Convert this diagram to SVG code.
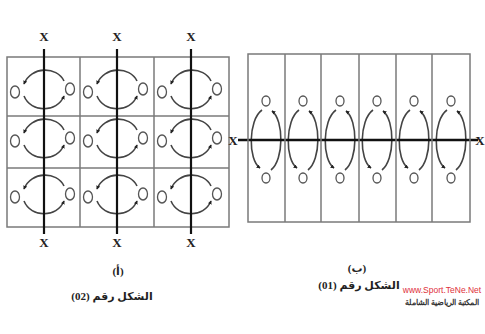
<svg xmlns="http://www.w3.org/2000/svg" width="485" height="334" viewBox="0 0 485 334">
<defs>
<style>
.grid{fill:none;stroke:#7a7a7a;stroke-width:1.5}
.axis{stroke:#111;stroke-width:2.2}
.arc{fill:none;stroke:#444;stroke-width:1.6}
.ring{fill:#fff;stroke:#555;stroke-width:1.3}
.x{font-family:"Liberation Serif",serif;font-weight:bold;font-size:13px;fill:#222;text-anchor:middle}
.lbl{font-family:"Liberation Serif","DejaVu Sans",serif;font-weight:bold;font-size:11px;fill:#222;text-anchor:middle}
</style>
<marker id="ah" viewBox="0 0 6 6" refX="5" refY="3" markerWidth="4" markerHeight="4" markerUnits="userSpaceOnUse" orient="auto">
<path d="M0,0 L6,3 L0,6 Z" fill="#222"/>
</marker>
<g id="hcell">
<ellipse class="ring" cx="-29" cy="2" rx="4.5" ry="6"/>
<ellipse class="ring" cx="26" cy="-1" rx="4.5" ry="6"/>
<path class="arc" d="M20,-9 C13,-24 -13,-24 -20,-6" marker-end="url(#ah)"/>
<path class="arc" d="M-20,6 C-13,23 13,23 20,6" marker-end="url(#ah)"/>
</g>
<g id="vcell">
<ellipse class="ring" cx="0" cy="-39" rx="4" ry="5"/>
<ellipse class="ring" cx="0" cy="38" rx="4" ry="5"/>
<path class="arc" d="M-4,-30 C-18,-20 -18,20 -6,28" marker-end="url(#ah)"/>
<path class="arc" d="M5,30 C18,20 18,-20 6,-29" marker-end="url(#ah)"/>
</g>
</defs>
<rect width="485" height="334" fill="#fff"/>

<g id="figure-02">
<rect class="grid" x="7" y="57" width="222" height="170"/>
<line class="grid" x1="80" y1="57" x2="80" y2="227"/>
<line class="grid" x1="154" y1="57" x2="154" y2="227"/>
<line class="grid" x1="7" y1="116" x2="229" y2="116"/>
<line class="grid" x1="7" y1="168" x2="229" y2="168"/>
</g>

<g id="connectors">
<use href="#hcell" x="44" y="90"/>
<use href="#hcell" x="117" y="90"/>
<use href="#hcell" x="191" y="90"/>
<use href="#hcell" x="44" y="139"/>
<use href="#hcell" x="117" y="139"/>
<use href="#hcell" x="191" y="139"/>
<use href="#hcell" x="44" y="195"/>
<use href="#hcell" x="117" y="195"/>
<use href="#hcell" x="191" y="195"/>
<line class="axis" x1="44" y1="49" x2="44" y2="234"/>
<line class="axis" x1="117" y1="49" x2="117" y2="234"/>
<line class="axis" x1="191" y1="49" x2="191" y2="234"/>

<use href="#vcell" x="266" y="140"/>
<use href="#vcell" x="303" y="140"/>
<use href="#vcell" x="340" y="140"/>
<use href="#vcell" x="377" y="140"/>
<use href="#vcell" x="414" y="140"/>
<use href="#vcell" x="451" y="140"/>
<line class="axis" x1="238" y1="140" x2="478" y2="140" style="stroke-width:2.6"/>
</g>

<g id="figure-01">
<rect class="grid" x="248" y="54" width="222" height="168"/>
<line class="grid" x1="285" y1="54" x2="285" y2="222"/>
<line class="grid" x1="321" y1="54" x2="321" y2="222"/>
<line class="grid" x1="359" y1="54" x2="359" y2="222"/>
<line class="grid" x1="396" y1="54" x2="396" y2="222"/>
<line class="grid" x1="432" y1="54" x2="432" y2="222"/>
</g>

<g id="labels">
<text class="x" x="44" y="41">X</text>
<text class="x" x="117" y="41">X</text>
<text class="x" x="191" y="41">X</text>
<text class="x" x="44" y="247">X</text>
<text class="x" x="117" y="247">X</text>
<text class="x" x="191" y="247">X</text>
<text class="x" x="233" y="145">X</text>
<text class="x" x="480" y="145">X</text>
<text class="lbl" x="118" y="275">(أ)</text>
<text class="lbl" x="112" y="300" direction="rtl">الشكل رقم (02)</text>
<text class="lbl" x="357" y="272">(ب)</text>
<text class="lbl" x="359" y="289" direction="rtl">الشكل رقم (01)</text>
<text x="442" y="293" font-family="Liberation Sans Narrow, Liberation Sans, sans-serif" font-size="8.5" fill="#e0303a" text-anchor="middle">www.Sport.TeNe.Net</text>
<text x="442" y="305" font-family="Liberation Sans, sans-serif" font-weight="bold" font-size="7.5" fill="#333" text-anchor="middle" direction="rtl">المكتبة الرياضية الشاملة</text>
</g>
</svg>
